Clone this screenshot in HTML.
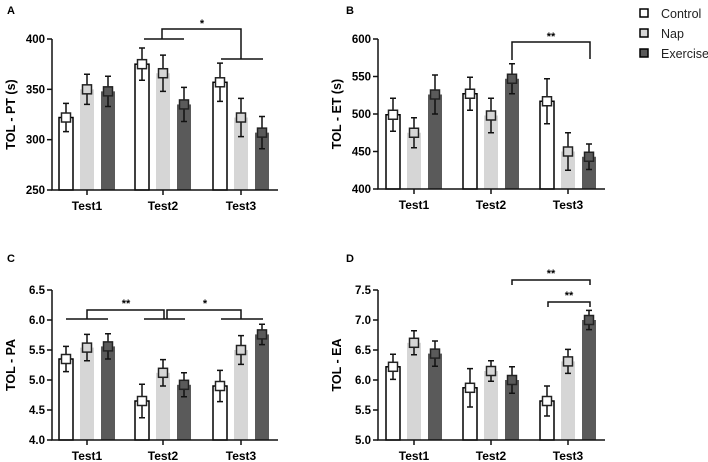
<!DOCTYPE html>
<html><head><meta charset="utf-8"><style>
body{margin:0;background:#fff}
svg{display:block;font-family:"Liberation Sans",Arial,sans-serif}
</style></head><body>
<svg id="fig" width="708" height="462" viewBox="0 0 708 462">
<g>
<g><rect x="640" y="9" width="8" height="8" fill="#fff" stroke="#000" stroke-width="1.5"/><text x="661" y="18" font-size="12.5" fill="#222">Control</text></g>
<g><rect x="640" y="29" width="8" height="8" fill="#d6d6d6" stroke="#000" stroke-width="1.5"/><text x="661" y="38" font-size="12.5" fill="#222">Nap</text></g>
<g><rect x="640" y="49" width="8" height="8" fill="#5a5a5a" stroke="#000" stroke-width="1.5"/><text x="661" y="58" font-size="12.5" fill="#222">Exercise</text></g>
</g>
</svg>
<script>
const categories = ["Test1","Test2","Test3"];
const seriesNames = ["Control","Nap","Exercise"];
// Panel A
const aControl = [322,375,357], aControlErr = [14,16,19];
const aNap = [350,366,322], aNapErr = [15,18,19];
const aExercise = [348,335,307], aExerciseErr = [15,17,16];
const aTicks = [250,300,350,400];
// Panel B
const bControl = [499,527,517], bControlErr = [22,22,30];
const bNap = [475,498,450], bNapErr = [20,23,25];
const bExercise = [526,547,443], bExerciseErr = [26,20,17];
const bTicks = [400,450,500,550,600];
// Panel C
const cControl = [5.35,4.65,4.9], cControlErr = [0.21,0.28,0.26];
const cNap = [5.54,5.12,5.5], cNapErr = [0.22,0.22,0.24];
const cExercise = [5.56,4.92,5.76], cExerciseErr = [0.21,0.2,0.17];
const cTicks = [4.0,4.5,5.0,5.5,6.0,6.5];
// Panel D
const dControl = [6.22,5.87,5.65], dControlErr = [0.21,0.32,0.25];
const dNap = [6.62,6.15,6.31], dNapErr = [0.2,0.17,0.2];
const dExercise = [6.44,6.0,7.0], dExerciseErr = [0.21,0.22,0.16];
const dTicks = [5.0,5.5,6.0,6.5,7.0,7.5];

const NS="http://www.w3.org/2000/svg";
const svg=document.getElementById('fig');
function mk(tag,attrs,parent){const e=document.createElementNS(NS,tag);for(const k in attrs)e.setAttribute(k,attrs[k]);(parent||svg).appendChild(e);return e;}
const fills=["#ffffff","#d6d6d6","#5a5a5a"];

function panel(p){
  const g=mk('g',{});
  
  
  const lo=p.ticks[0], hi=p.ticks[p.ticks.length-1];
  const y=v=>p.bottom-(v-lo)/(hi-lo)*(p.bottom-p.top);
  const cx=i=>p.catX[i];
  const lab=mk('text',{x:p.labX,y:p.labY,'font-size':11,'font-weight':'bold'},g);lab.textContent=p.id;
  
  
  const yt=mk('text',{x:0,y:0,'font-size':12.5,'font-weight':'bold','text-anchor':'middle',transform:`translate(${p.axisX-37},${(p.top+p.bottom)/2}) rotate(-90)`},g);yt.textContent=p.ytitle;
  
  
  // bars
  p.series.forEach((s,si)=>{
    s.vals.forEach((v,i)=>{
      const x=cx(i)+(si-1)*21;
      const bar=mk('rect',{x:x-7,y:y(v),width:14,height:p.bottom-y(v),fill:fills[si],stroke:si==0?'#000':'none','stroke-width':1.5},g);
      
      
      const e=s.err[i];
      const eb=mk('path',{d:`M${x} ${y(v+e)}V${y(v-e)}M${x-3} ${y(v+e)}H${x+3}M${x-3} ${y(v-e)}H${x+3}`,stroke:'#111','stroke-width':1.5,fill:'none'},g);
      
      
      const m=mk('rect',{x:x-4.5,y:y(v)-4.5,width:9,height:9,fill:fills[si],stroke:'#222','stroke-width':1.5},g);
      
      
    });
  });
  // axes
  const ax=mk('path',{d:`M${p.axisX} ${p.top}V${p.bottom}H${p.axisEnd}`,stroke:'#111','stroke-width':1.5,fill:'none'},g);
  
  
  p.ticks.forEach(t=>{
    mk('line',{x1:p.axisX-5,x2:p.axisX,y1:y(t),y2:y(t),stroke:'#111','stroke-width':1.5},g);
    const tl=mk('text',{x:p.axisX-7,y:y(t)+4,'font-size':11.5,'font-weight':'bold','text-anchor':'end'},g);
    tl.textContent=p.fmt(t);
    
    
  });
  categories.forEach((c,i)=>{
    mk('line',{x1:cx(i),x2:cx(i),y1:p.bottom,y2:p.bottom+5,stroke:'#111','stroke-width':1.5},g);
    const xl=mk('text',{x:cx(i),y:p.bottom+20,'font-size':12,'font-weight':'bold','text-anchor':'middle'},g);
    xl.textContent=c;
    
    
  });
  p.sig.forEach(s=>{
    const sp=mk('path',{d:s.d,stroke:'#111','stroke-width':1.5,fill:'none'},g);
    
    
    const st=mk('text',{x:s.tx,y:s.ty,'font-size':11,'font-weight':'bold','text-anchor':'middle'},g);
    st.textContent=s.t;
    
    
  });
}
const L=[87,163,241], R=[414,491,568];
panel({id:'A',labX:7,labY:14,ytitle:'TOL - PT (s)',axisX:52,axisEnd:278,top:39,bottom:190,catX:L,ticks:aTicks,fmt:t=>t,
 series:[{vals:aControl,err:aControlErr},{vals:aNap,err:aNapErr},{vals:aExercise,err:aExerciseErr}],
 sig:[{d:'M144 39H184M162 39V29H241V59M221 59H263',t:'*',tx:202,ty:27}]});
panel({id:'B',labX:346,labY:14,ytitle:'TOL - ET (s)',axisX:378,axisEnd:605,top:39,bottom:189,catX:R,ticks:bTicks,fmt:t=>t,
 series:[{vals:bControl,err:bControlErr},{vals:bNap,err:bNapErr},{vals:bExercise,err:bExerciseErr}],
 sig:[{d:'M512 60V42H590V59',t:'**',tx:551,ty:40}]});
panel({id:'C',labX:7,labY:262,ytitle:'TOL - PA',axisX:52,axisEnd:278,top:290,bottom:440,catX:L,ticks:cTicks,fmt:t=>t.toFixed(1),
 series:[{vals:cControl,err:cControlErr},{vals:cNap,err:cNapErr},{vals:cExercise,err:cExerciseErr}],
 sig:[{d:'M66 319H108M144 319H185M221 319H263M87 319V310H164V319M167 319V310H241V319',t:'**',tx:126,ty:307},{d:'',t:'*',tx:205,ty:307}]});
panel({id:'D',labX:346,labY:262,ytitle:'TOL - EA',axisX:378,axisEnd:605,top:290,bottom:440,catX:R,ticks:dTicks,fmt:t=>t.toFixed(1),
 series:[{vals:dControl,err:dControlErr},{vals:dNap,err:dNapErr},{vals:dExercise,err:dExerciseErr}],
 sig:[{d:'M512 285V280H590V285',t:'**',tx:551,ty:277},{d:'M548 307V302H590V307',t:'**',tx:569,ty:299}]});
</script>
</body></html>
